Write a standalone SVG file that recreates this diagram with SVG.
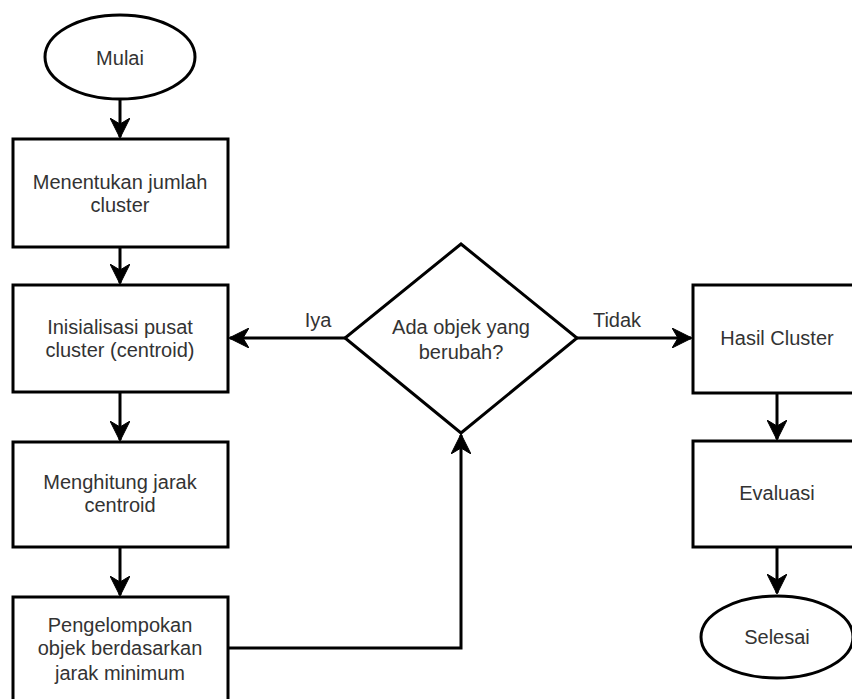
<svg xmlns="http://www.w3.org/2000/svg" width="852" height="699" viewBox="0 0 852 699">
  <defs>
    <style>
      .shape { fill: #ffffff; stroke: #000000; stroke-width: 3; }
      .edge { fill: none; stroke: #000000; stroke-width: 3; }
      .lbl { font-family: "Liberation Sans", Arial, sans-serif; font-size: 20px; fill: #333333; text-anchor: middle; }
    </style>
    <marker id="arrow" viewBox="0 0 20 20" refX="19" refY="10" markerWidth="20" markerHeight="20" markerUnits="userSpaceOnUse" orient="auto">
      <path d="M0,0 L20,10 L0,20 L6,10 Z" fill="#000000" stroke="#000000" stroke-width="1"/>
    </marker>
  </defs>
  <rect width="852" height="699" fill="#ffffff"/>

  <g id="connectors">
    <path class="edge" d="M120,100 V137" marker-end="url(#arrow)"/>
    <path class="edge" d="M120,247 V283" marker-end="url(#arrow)"/>
    <path class="edge" d="M120,392 V440" marker-end="url(#arrow)"/>
    <path class="edge" d="M120,547 V595" marker-end="url(#arrow)"/>
    <path class="edge" d="M228,648 H461 V435" marker-end="url(#arrow)"/>
    <path class="edge" d="M345,338 H230" marker-end="url(#arrow)"/>
    <path class="edge" d="M577,338 H691" marker-end="url(#arrow)"/>
    <path class="edge" d="M777,393 V439" marker-end="url(#arrow)"/>
    <path class="edge" d="M777,547 V593" marker-end="url(#arrow)"/>
    <text class="lbl" x="318" y="327">Iya</text>
    <text class="lbl" x="617" y="327">Tidak</text>
  </g>

  <g id="mulai">
    <ellipse class="shape" cx="120" cy="57" rx="75" ry="42"/>
    <text class="lbl" x="120" y="65">Mulai</text>
  </g>

  <g id="menentukan">
    <rect class="shape" x="13" y="139" width="215" height="108"/>
    <text class="lbl" x="120" y="189">Menentukan jumlah</text>
    <text class="lbl" x="120" y="212">cluster</text>
  </g>

  <g id="inisialisasi">
    <rect class="shape" x="13" y="285" width="215" height="107"/>
    <text class="lbl" x="120" y="334">Inisialisasi pusat</text>
    <text class="lbl" x="120" y="357">cluster (centroid)</text>
  </g>

  <g id="menghitung">
    <rect class="shape" x="13" y="442" width="215" height="105"/>
    <text class="lbl" x="120" y="489">Menghitung jarak</text>
    <text class="lbl" x="120" y="512">centroid</text>
  </g>

  <g id="pengelompokan">
    <rect class="shape" x="13" y="597" width="215" height="108"/>
    <text class="lbl" x="120" y="632">Pengelompokan</text>
    <text class="lbl" x="120" y="655">objek berdasarkan</text>
    <text class="lbl" x="120" y="680">jarak minimum</text>
  </g>

  <g id="keputusan">
    <polygon class="shape" points="461,244 577,338 461,433 345,338"/>
    <text class="lbl" x="461" y="334">Ada objek yang</text>
    <text class="lbl" x="461" y="359">berubah?</text>
  </g>

  <g id="hasil">
    <rect class="shape" x="693" y="285" width="168" height="108"/>
    <text class="lbl" x="777" y="345">Hasil Cluster</text>
  </g>

  <g id="evaluasi">
    <rect class="shape" x="693" y="441" width="168" height="106"/>
    <text class="lbl" x="777" y="500">Evaluasi</text>
  </g>

  <g id="selesai">
    <ellipse class="shape" cx="777" cy="637" rx="76" ry="41"/>
    <text class="lbl" x="777" y="644">Selesai</text>
  </g>
</svg>
